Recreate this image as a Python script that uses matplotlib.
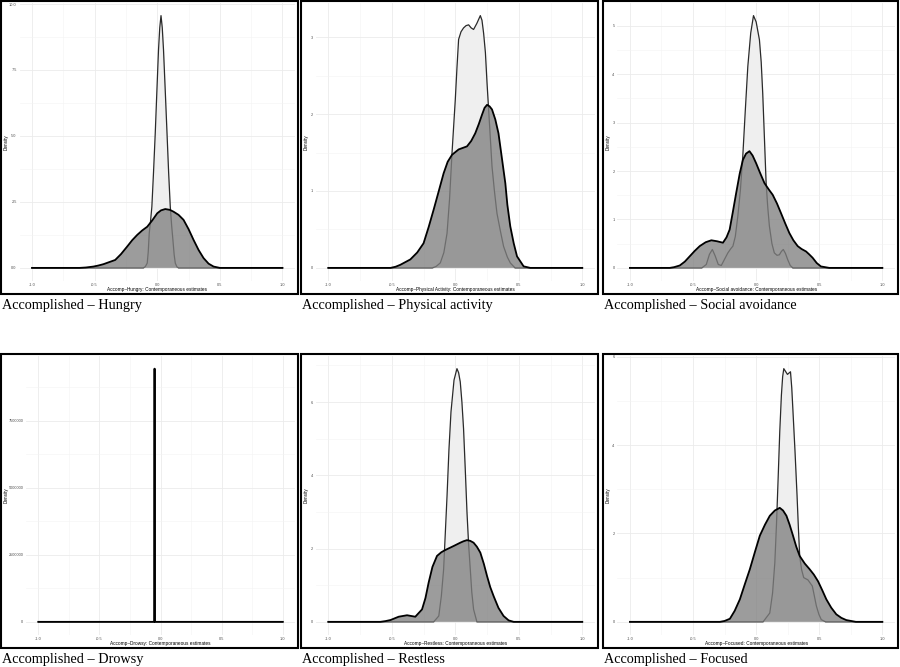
import matplotlib
matplotlib.use("Agg")
import matplotlib.pyplot as plt
from matplotlib.patches import Rectangle
from matplotlib.ticker import AutoMinorLocator

plt.rcParams["font.family"] = ["Liberation Sans", "DejaVu Sans"]

# panel captions and axis titles
captions = ["Accomplished – Hungry", "Accomplished – Physical activity",
            "Accomplished – Social avoidance", "Accomplished – Drowsy",
            "Accomplished – Restless", "Accomplished – Focused"]
x_titles = ["Accomp–Hungry: Contemporaneous estimates",
            "Accomp–Physical Activity: Contemporaneous estimates",
            "Accomp–Social avoidance: Contemporaneous estimates",
            "Accomp–Drowsy: Contemporaneous estimates",
            "Accomp–Restless: Contemporaneous estimates",
            "Accomp–Focused: Contemporaneous estimates"]

x_ticks = [-1.0, -0.5, 0.0, 0.5, 1.0]
x_tick_labels = ["-1.0", "-0.5", "0.0", "0.5", "1.0"]
y_ticks = [[0, 2.5, 5, 7.5, 10], [0, 1, 2, 3], [0, 1, 2, 3, 4, 5],
           [0, 2500000, 5000000, 7500000], [0, 2, 4, 6], [0, 2, 4, 6]]
y_tick_labels = [["0.0", "2.5", "5.0", "7.5", "10.0"], ["0", "1", "2", "3"],
                 ["0", "1", "2", "3", "4", "5"],
                 ["0", "2500000", "5000000", "7500000"],
                 ["0", "2", "4", "6"], ["0", "2", "4", "6"]]

# density curves (light = narrow, dark = wide)
hungry_light_x = [-1.0, -0.11, -0.095, -0.08, -0.072, -0.064, -0.054, -0.043, -0.03, -0.016,
                  -0.003, 0.01, 0.02, 0.03, 0.04, 0.05, 0.064, 0.078, 0.091, 0.104,
                  0.115, 0.125, 0.135, 0.144, 0.157, 0.17, 1.0]
hungry_light_y = [0, 0, 0.05, 0.18, 0.6, 1.31, 1.75, 2.32, 3.6, 5.1,
                  6.7, 8.26, 9.1, 9.56, 9.1, 8.26, 6.7, 5.1, 3.6, 2.32,
                  1.6, 1.06, 0.5, 0.18, 0.04, 0, 0]
hungry_dark_x = [-1.0, -0.62, -0.57, -0.51, -0.47, -0.43, -0.336, -0.29, -0.24, -0.2,
                 -0.16, -0.12, -0.08, -0.04, 0.0, 0.03, 0.064, 0.1, 0.13, 0.17,
                 0.21, 0.25, 0.29, 0.33, 0.37, 0.41, 0.45, 0.5, 1.0]
hungry_dark_y = [0, 0, 0.015, 0.05, 0.09, 0.14, 0.30, 0.52, 0.81, 1.05,
                 1.25, 1.42, 1.56, 1.8, 2.07, 2.18, 2.23, 2.2, 2.13, 2.01,
                 1.82, 1.47, 1.06, 0.68, 0.37, 0.16, 0.05, 0, 0]

phys_light_x = [-1.0, -0.18, -0.15, -0.118, -0.09, -0.065, -0.045, -0.026, 0.0, 0.013,
                0.026, 0.045, 0.065, 0.085, 0.105, 0.125, 0.144, 0.17, 0.197, 0.21,
                0.223, 0.237, 0.25, 0.27, 0.289, 0.308, 0.328, 0.355, 0.38, 0.41,
                0.433, 0.47, 1.0]
phys_light_y = [0, 0, 0.02, 0.065, 0.2, 0.45, 0.9, 1.49, 2.19, 2.6,
                2.97, 3.07, 3.12, 3.15, 3.16, 3.12, 3.10, 3.18, 3.28, 3.22,
                3.05, 2.8, 2.4, 1.85, 1.32, 1.0, 0.71, 0.48, 0.28, 0.14,
                0.065, 0, 0]
phys_dark_x = [-1.0, -0.51, -0.47, -0.433, -0.354, -0.3, -0.25, -0.21, -0.17, -0.13,
               -0.092, -0.06, -0.026, 0.026, 0.092, 0.125, 0.157, 0.185, 0.21, 0.23,
               0.25, 0.27, 0.289, 0.315, 0.34, 0.365, 0.394, 0.41, 0.433, 0.46,
               0.486, 0.538, 0.59, 1.0]
phys_dark_y = [0, 0, 0.015, 0.04, 0.11, 0.2, 0.32, 0.53, 0.76, 1.0,
               1.23, 1.38, 1.47, 1.54, 1.58, 1.65, 1.75, 1.87, 1.99, 2.08,
               2.12, 2.1, 2.06, 1.93, 1.75, 1.45, 1.10, 0.82, 0.54, 0.32,
               0.15, 0.02, 0, 0]

social_light_x = [-1.0, -0.43, -0.395, -0.37, -0.347, -0.325, -0.30, -0.276, -0.25, -0.224,
                  -0.2, -0.184, -0.165, -0.145, -0.125, -0.106, -0.086, -0.066, -0.043, -0.021,
                  0.0, 0.026, 0.04, 0.052, 0.066, 0.079, 0.092, 0.105, 0.125, 0.144,
                  0.165, 0.184, 0.2, 0.215, 0.232, 0.25, 0.27, 0.29, 1.0]
social_light_y = [0, 0, 0.07, 0.28, 0.38, 0.25, 0.07, 0.05, 0.18, 0.31,
                  0.4, 0.45, 0.65, 1.07, 1.6, 2.30, 3.25, 4.16, 4.85, 5.21,
                  5.08, 4.71, 4.25, 3.61, 2.65, 1.75, 1.25, 0.86, 0.5, 0.31,
                  0.26, 0.27, 0.34, 0.38, 0.3, 0.17, 0.05, 0, 0]
social_dark_x = [-1.0, -0.684, -0.65, -0.605, -0.565, -0.526, -0.487, -0.447, -0.4, -0.355,
                 -0.31, -0.263, -0.235, -0.21, -0.185, -0.158, -0.13, -0.105, -0.08, -0.053,
                 -0.028, 0.0, 0.033, 0.066, 0.1, 0.131, 0.165, 0.197, 0.23, 0.263,
                 0.295, 0.329, 0.36, 0.395, 0.42, 0.447, 0.48, 0.513, 0.579, 1.0]
social_dark_y = [0, 0, 0.015, 0.05, 0.13, 0.24, 0.35, 0.45, 0.53, 0.57,
                 0.55, 0.52, 0.63, 0.79, 1.15, 1.55, 1.95, 2.23, 2.36, 2.41,
                 2.32, 2.16, 1.95, 1.75, 1.62, 1.51, 1.33, 1.13, 0.92, 0.72,
                 0.57, 0.45, 0.39, 0.34, 0.28, 0.21, 0.1, 0.03, 0, 0]

drowsy_light_x = [-1.0, -0.052, -0.049, -0.046, 1.0]
drowsy_light_y = [0, 0, 9450000, 0, 0]
drowsy_dark_x = [-1.0, -0.052, -0.049, -0.046, 1.0]
drowsy_dark_y = [0, 0, 9450000, 0, 0]

restless_light_x = [-1.0, -0.17, -0.13, -0.11, -0.092, -0.065, -0.05, -0.034, -0.01, 0.013,
                    0.026, 0.039, 0.052, 0.065, 0.078, 0.092, 0.105, 0.118, 0.13, 0.144,
                    0.17, 1.0]
restless_light_y = [0, 0, 0.16, 0.7, 1.43, 3.44, 4.7, 5.73, 6.6, 6.91,
                    6.8, 6.55, 6.0, 5.27, 4.2, 2.99, 2.1, 1.43, 0.8, 0.34,
                    0, 0]
restless_dark_x = [-1.0, -0.59, -0.55, -0.51, -0.446, -0.38, -0.315, -0.262, -0.235, -0.21,
                   -0.18, -0.144, -0.11, -0.079, -0.013, 0.039, 0.065, 0.092, 0.118, 0.144,
                   0.17, 0.197, 0.225, 0.25, 0.275, 0.302, 0.34, 0.38, 0.42, 0.46, 1.0]
restless_dark_y = [0, 0, 0.02, 0.05, 0.14, 0.18, 0.14, 0.34, 0.65, 1.07,
                   1.5, 1.80, 1.9, 1.96, 2.07, 2.16, 2.2, 2.23, 2.21, 2.16,
                   2.05, 1.89, 1.58, 1.25, 0.95, 0.70, 0.38, 0.16, 0.04, 0, 0]

focused_light_x = [-1.0, 0.055, 0.108, 0.13, 0.148, 0.161, 0.174, 0.187, 0.2, 0.21,
                   0.219, 0.248, 0.272, 0.282, 0.292, 0.308, 0.324, 0.335, 0.345, 0.36,
                   0.377, 0.41, 0.445, 0.46, 0.477, 0.497, 0.516, 0.55, 1.0]
focused_light_y = [0, 0, 0.20, 0.65, 1.34, 2.2, 3.23, 4.3, 5.13, 5.55,
                   5.73, 5.60, 5.66, 5.3, 4.75, 3.85, 2.86, 2.1, 1.49, 1.18,
                   1.0, 0.95, 0.81, 0.6, 0.36, 0.17, 0.05, 0, 0]
focused_dark_x = [-1.0, -0.287, -0.25, -0.208, -0.17, -0.129, -0.09, -0.05, -0.01, 0.029,
                  0.07, 0.108, 0.148, 0.187, 0.213, 0.24, 0.265, 0.292, 0.318, 0.345,
                  0.385, 0.424, 0.457, 0.49, 0.523, 0.556, 0.595, 0.635, 0.675, 0.714,
                  0.79, 1.0]
focused_dark_y = [0, 0, 0.02, 0.07, 0.25, 0.51, 0.85, 1.19, 1.58, 1.95,
                  2.2, 2.40, 2.52, 2.58, 2.52, 2.40, 2.2, 1.95, 1.7, 1.49,
                  1.32, 1.19, 1.07, 0.92, 0.72, 0.51, 0.32, 0.17, 0.09, 0.04,
                  0, 0]

curves = [
    (hungry_light_x, hungry_light_y, hungry_dark_x, hungry_dark_y),
    (phys_light_x, phys_light_y, phys_dark_x, phys_dark_y),
    (social_light_x, social_light_y, social_dark_x, social_dark_y),
    (drowsy_light_x, drowsy_light_y, drowsy_dark_x, drowsy_dark_y),
    (restless_light_x, restless_light_y, restless_dark_x, restless_dark_y),
    (focused_light_x, focused_light_y, focused_dark_x, focused_dark_y),
]

W, H = 900, 667
fig = plt.figure(figsize=(W / 100, H / 100), dpi=100)

# frame boxes in pixels: left, top, right, bottom
frames = [(1, 1, 298, 294), (301, 1, 598, 294), (603, 1, 898, 294),
          (1, 354, 298, 648), (301, 354, 598, 648), (603, 354, 898, 648)]
left_pad = [18.5, 14.6, 14.3, 25.1, 14.6, 14.3]


def fx(px):
    return px / W


def fy(py):
    return 1 - py / H


for i, (fl, ft, fr, fb) in enumerate(frames):
    fig.patches.append(Rectangle((fx(fl), fy(fb)), fx(fr - fl), (fb - ft) / H,
                                 transform=fig.transFigure, fill=False,
                                 edgecolor="black", linewidth=1.5, zorder=5))

    pl, pr = fl + left_pad[i], fr - 3
    pt, pb = ft + 2, fb - 13.5
    ax = fig.add_axes([fx(pl), fy(pb), fx(pr - pl), (pb - pt) / H])

    lx, ly, dx, dy = curves[i]
    ax.fill_between(lx, ly, color="#efefef", linewidth=0, zorder=2)
    ax.plot(lx, ly, color="#2a2a2a", linewidth=0.9, zorder=3,
            solid_joinstyle="round")
    ax.fill_between(dx, dy, facecolor=(0.5, 0.5, 0.5, 0.78), linewidth=0, zorder=4)
    ax.plot(dx, dy, color="black", linewidth=1.3, zorder=5,
            solid_joinstyle="round")

    top = max(max(ly), max(dy))
    ax.set_xlim(-1.1, 1.1)
    ax.set_ylim(-0.05 * top, 1.05 * top)
    ax.set_xticks(x_ticks)
    ax.set_xticklabels(x_tick_labels)
    ax.set_yticks(y_ticks[i])
    ax.set_yticklabels(y_tick_labels[i])
    ax.xaxis.set_minor_locator(AutoMinorLocator(2))
    ax.yaxis.set_minor_locator(AutoMinorLocator(2))
    ax.grid(which="major", color="#ebebeb", linewidth=0.6)
    ax.grid(which="minor", color="#f3f3f3", linewidth=0.4)
    ax.set_axisbelow(True)
    ax.tick_params(which="both", length=0, labelsize=2.8, labelcolor="#4d4d4d", pad=2)
    for s in ax.spines.values():
        s.set_visible(False)

    fig.text(fx(fl + 5.5), fy((pt + pb) / 2), "Density", rotation=90,
             ha="center", va="center", fontsize=3.3)
    fig.text(fx((pl + pr) / 2), fy(fb - 4.5), x_titles[i],
             ha="center", va="center", fontsize=3.4)
    fig.text(fx(fl + 1), fy(fb + 12), captions[i], ha="left", va="center",
             fontsize=10.3, family="Liberation Serif")

fig.savefig("out.png", dpi=100)
